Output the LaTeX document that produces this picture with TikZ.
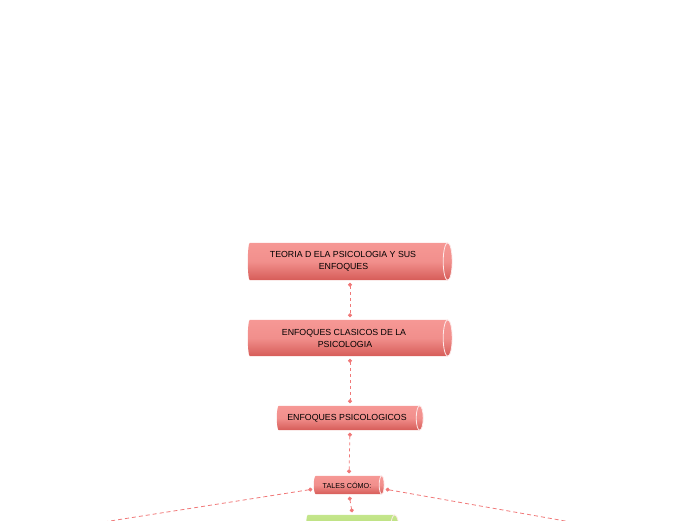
\documentclass[tikz,border=0pt]{standalone}
\usepackage{fontspec}
\setmainfont{Liberation Sans}
\usetikzlibrary{arrows.meta,backgrounds,calc}
\definecolor{redtop}{RGB}{246,152,149}
\definecolor{redbot}{RGB}{214,92,88}
\definecolor{greentop}{RGB}{196,230,140}
\definecolor{greenbot}{RGB}{168,212,96}
\definecolor{connred}{RGB}{240,120,120}
\tikzset{
  cylnode/.style={rectangle, inner sep=0pt, align=center, font=\fontsize{8.8}{12}\selectfont},
  redfill/.style={top color=redtop, bottom color=redbot, middle color=redtop!85!redbot},
  greenfill/.style={top color=greentop, bottom color=greenbot},
  endline/.style={draw=white!80!redtop, line width=0.8pt},
  conn/.style={draw=connred, line width=0.8pt, dash pattern=on 3pt off 3pt,
    {Circle[length=4pt]}-{Circle[length=4pt]}, shorten <=2.5pt, shorten >=2.5pt},
  connopen/.style={draw=connred, line width=0.8pt, dash pattern=on 4pt off 3pt,
    {Circle[length=4pt]}-, shorten <=1.5pt},
}
\newcommand\cylbg[3]{%
  \path[#3] let \p1=(#1.north west), \p2=(#1.south east), \n1={(\y1-\y2)/2} in
    (\x2-#2pt,\y1) -- (\x1+2pt,\y1) arc[start angle=90,end angle=270,x radius=2pt,y radius=\n1]
    -- (\x2-#2pt,\y2) arc[start angle=-90,end angle=90,x radius=#2pt,y radius=\n1] -- cycle;
  \path[endline] let \p1=(#1.north west), \p2=(#1.south east), \n1={(\y1-\y2)/2} in
    (\x2-#2pt,{(\y1+\y2)/2}) ellipse[x radius=#2pt, y radius=\n1];
}
\begin{document}
\begin{tikzpicture}[x=1pt,y=1pt]
\useasboundingbox (0,0) rectangle (696,520);
\clip (0,0) rectangle (696,520);
\node[cylnode, minimum width=204, minimum height=37] (n1) at (350,258.5)
  {TEORIA D ELA PSICOLOGIA Y SUS\hspace*{14pt}\\ENFOQUES\hspace*{13pt}};
\node[cylnode, minimum width=204, minimum height=36] (n2) at (350,182)
  {ENFOQUES CLASICOS DE LA\hspace*{12pt}\\PSICOLOGIA\hspace*{10pt}};
\node[cylnode, minimum width=146, minimum height=24] (n3) at (350,102)
  {ENFOQUES PSICOLOGICOS\hspace*{6pt}};
\node[cylnode, minimum width=70, minimum height=18, font=\fontsize{7.2}{9}\selectfont] (n4) at (349,35)
  {TALES CÓMO:\hspace*{4pt}};
\node[cylnode, minimum width=93, minimum height=36] (n5) at (352.5,-13) {};
\coordinate (lend) at (40,-12);
\coordinate (rend) at (650,-16);
\begin{pgfonlayer}{background}
  \cylbg{n1}{4.5}{redfill}
  \cylbg{n2}{4.5}{redfill}
  \cylbg{n3}{3.5}{redfill}
  \cylbg{n4}{2.5}{redfill}
  \cylbg{n5}{4.5}{greenfill}
\end{pgfonlayer}
\draw[conn] (n1.south) -- (n2.north);
\draw[conn] (n2.south) -- (n3.north);
\draw[conn] (n3.south) -- (n4.north);
\draw[conn] (n4.south) -- (n5.north);
\draw[connopen] ([yshift=-4pt]n4.west) -- (lend);
\draw[connopen] ([yshift=-4pt]n4.east) -- (rend);
\end{tikzpicture}
\end{document}
